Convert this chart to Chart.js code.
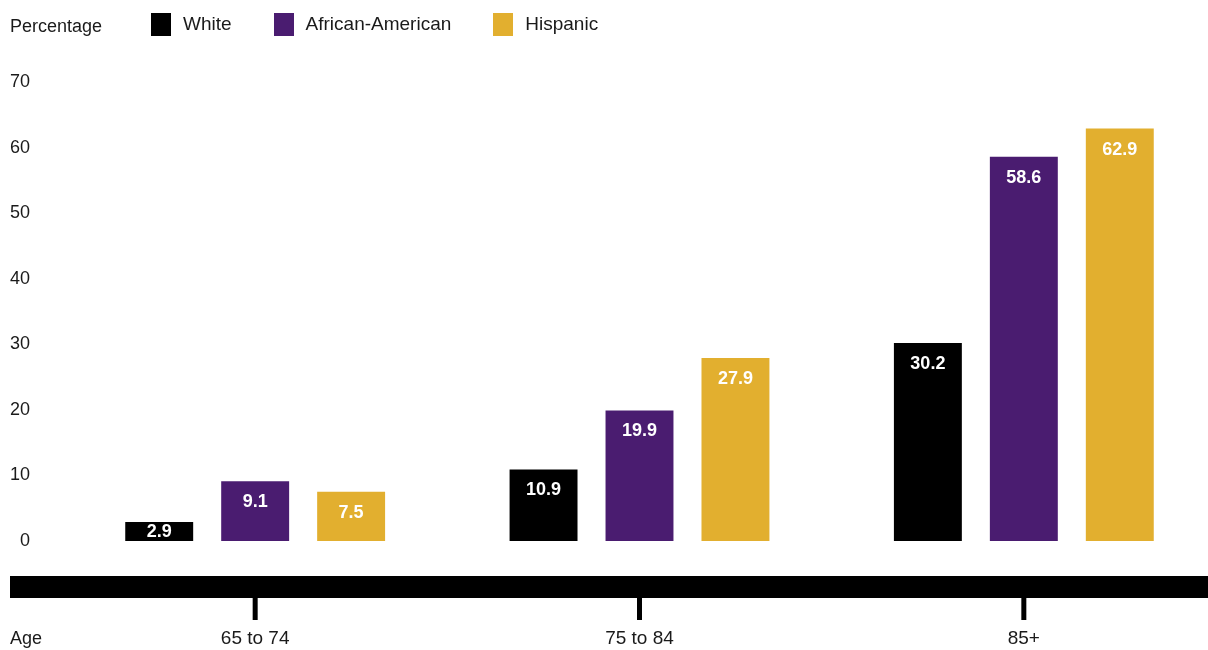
<!DOCTYPE html>
<html>
<head>
<meta charset="utf-8">
<script src="https://cdn.jsdelivr.net/npm/chart.js@4.4.1/dist/chart.umd.min.js"></script>
<style>
    html, body { margin: 0; padding: 0; background: #fff; overflow: hidden; width: 1208px; height: 650px; }
    body { position: relative; font-family: "Liberation Sans", Arial, sans-serif; color: #1a1a1a; }
    #wrap { position: absolute; left: 0; top: 0; width: 1220px; height: 650px; }
    .label { position: absolute; font-size: 18px; line-height: 24px; }
    #legend { position: absolute; left: 151px; top: 12px; display: flex; }
    .item { display: flex; align-items: center; margin-right: 42px; font-size: 19px; line-height: 24px; }
    .swatch { width: 20px; height: 23px; margin-right: 12px; }
</style>
</head>
<body>
<div id="wrap"><canvas id="chart" width="1220" height="650"></canvas></div>
<div class="label" style="left:10px; top:14px;">Percentage</div>
<div id="legend"></div>
<div class="label" style="left:10px; top:626px;">Age</div>

<script>
const ageGroups = ['65 to 74', '75 to 84', '85+'];
const seriesNames = ['White', 'African-American', 'Hispanic'];
const whiteValues = [2.9, 10.9, 30.2];
const africanAmericanValues = [9.1, 19.9, 58.6];
const hispanicValues = [7.5, 27.9, 62.9];
const seriesColors = ['#000000', '#4a1c70', '#e2af2f'];
const yTicks = [0, 10, 20, 30, 40, 50, 60, 70];

const allValues = [whiteValues, africanAmericanValues, hispanicValues];
const fontFamily = '"Liberation Sans", Arial, sans-serif';

// legend built by hand so it sits on the same line as "Percentage"
const legendEl = document.getElementById('legend');
seriesNames.forEach((name, i) => {
    const item = document.createElement('div');
    item.className = 'item';
    item.innerHTML = `<span class="swatch" style="background:${seriesColors[i]}"></span>${name}`;
    legendEl.appendChild(item);
});

// value labels inside the top of each bar
const barLabels = {
    id: 'barLabels',
    afterDatasetsDraw(chart) {
        const ctx = chart.ctx;
        ctx.save();
        ctx.fillStyle = '#ffffff';
        ctx.font = 'bold 18px ' + fontFamily;
        ctx.textAlign = 'center';
        ctx.textBaseline = 'middle';
        chart.data.datasets.forEach((ds, i) => {
            chart.getDatasetMeta(i).data.forEach((bar, j) => {
                const h = bar.base - bar.y;
                ctx.fillText(ds.data[j].toFixed(1), bar.x, bar.y + Math.min(20, h / 2) + 1);
            });
        });
        ctx.restore();
    }
};

// thick black axis band with tick marks under each age group
const axisBand = {
    id: 'axisBand',
    afterDraw(chart) {
        const ctx = chart.ctx;
        const top = chart.chartArea.bottom + 35;
        ctx.save();
        ctx.fillStyle = '#000000';
        ctx.fillRect(10, top, chart.width, 22);
        const xScale = chart.scales.x;
        ageGroups.forEach((g, i) => {
            const x = xScale.getPixelForValue(i);
            ctx.fillRect(x - 2.5, top + 22, 5, 22);
        });
        ctx.restore();
    }
};

const ctx = document.getElementById('chart').getContext('2d');
new Chart(ctx, {
    type: 'bar',
    data: {
        labels: ageGroups,
        datasets: seriesNames.map((name, i) => ({
            label: name,
            data: allValues[i],
            backgroundColor: seriesColors[i],
            barPercentage: 0.708,
            categoryPercentage: 0.749
        }))
    },
    options: {
        responsive: false,
        animation: false,
        layout: { padding: { left: 10, top: 82, right: 4, bottom: 0 } },
        plugins: {
            legend: { display: false },
            tooltip: { enabled: false }
        },
        scales: {
            x: {
                afterFit(scale) { scale.height = 109; },
                grid: { display: false },
                border: { display: false },
                ticks: {
                    padding: 78,
                    color: '#1a1a1a',
                    font: { family: fontFamily, size: 19 }
                }
            },
            y: {
                min: 0,
                max: 70,
                afterFit(scale) { scale.width = 53; },
                afterBuildTicks(scale) { scale.ticks = yTicks.map(v => ({ value: v })); },
                grid: { display: false, drawTicks: false },
                border: { display: false },
                ticks: {
                    padding: 33,
                    color: '#1a1a1a',
                    font: { family: fontFamily, size: 18 }
                }
            }
        }
    },
    plugins: [barLabels, axisBand]
});
</script>
</body>
</html>
